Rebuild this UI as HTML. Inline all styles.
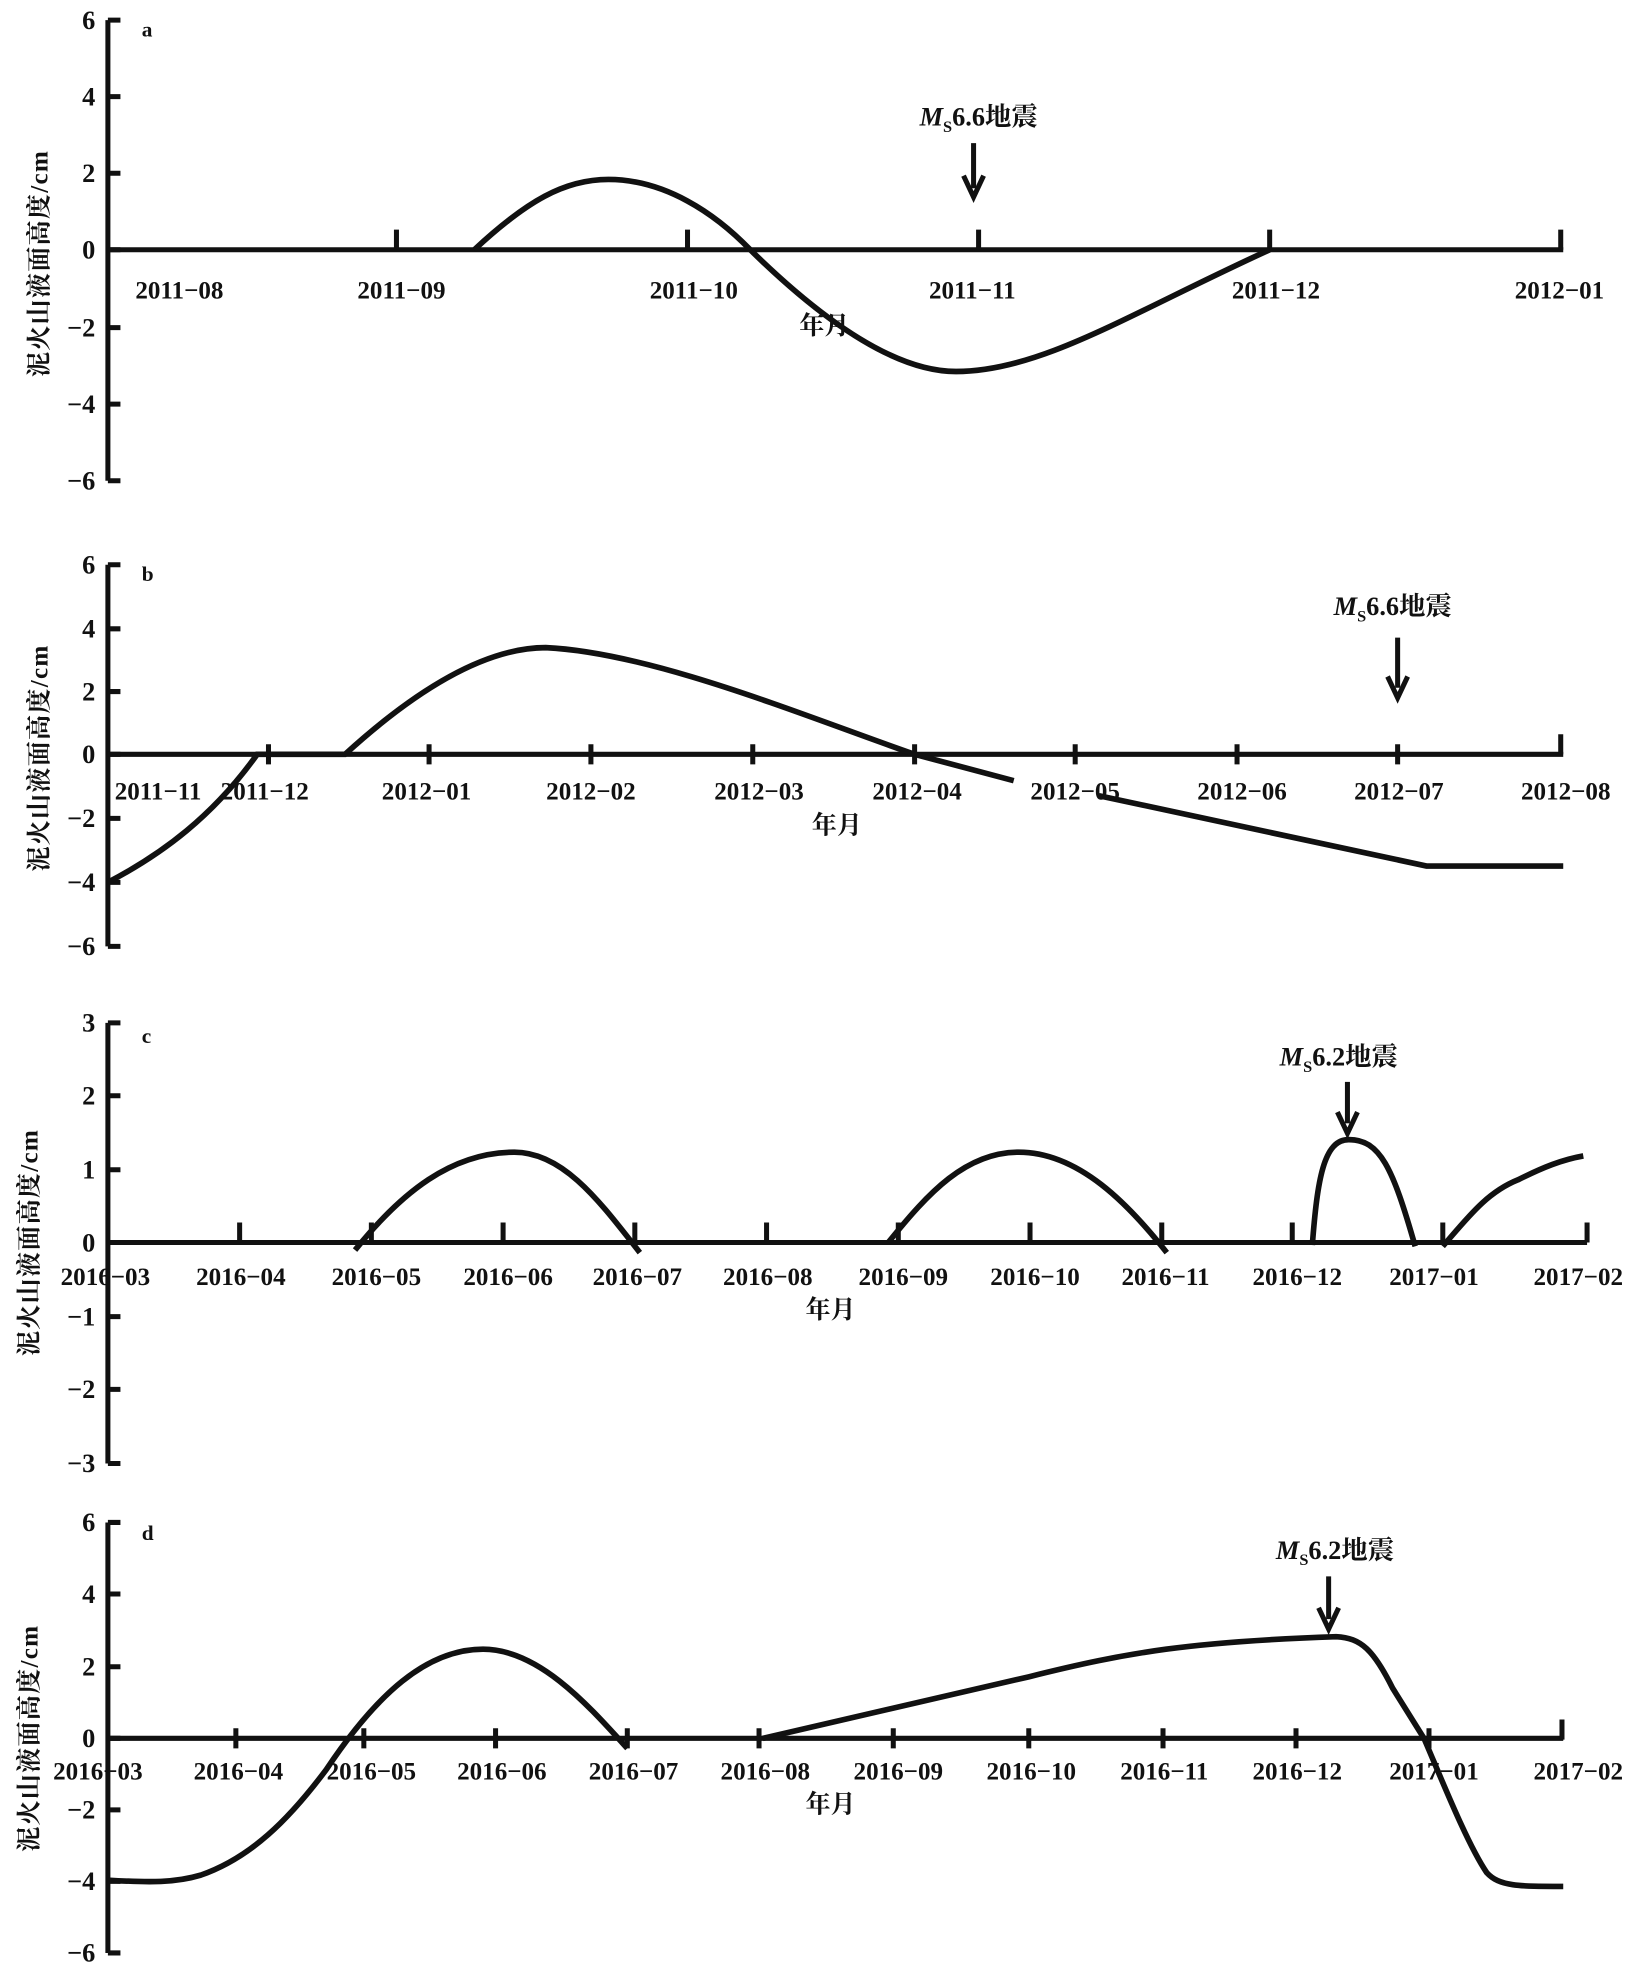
<!DOCTYPE html>
<html><head><meta charset="utf-8"><style>
html,body{margin:0;padding:0;background:#fff}
svg{display:block}
text{font-family:"Liberation Serif","Noto Serif CJK SC",serif;font-weight:bold;fill:#111}
</style></head><body>
<svg width="1636" height="1968" viewBox="0 0 1304 1568" preserveAspectRatio="none" xmlns="http://www.w3.org/2000/svg">
<g stroke="#111" stroke-width="4" fill="none" stroke-linecap="butt">
<path d="M86 16V383"/>
<path d="M86 16h10M86 77h10M86 138h10M86 199h10M86 261h10M86 322h10M86 383h10"/>
<path d="M86 199H1246"/>
<path d="M316 199v-16M548 199v-16M780 199v-16M1012 199v-16M1244 199v-16"/>
<path d="M378 199 C420 160,450 143,485 143 C530 143,570 170,598 199 C650 250,710 296,762 296 C830 296,900 250,1012 199" stroke-width="4.5"/>
<path d="M776 114V150"/><path d="M768 140 L776 157 L784 140" stroke-width="4"/>
<path d="M86 450V754"/>
<path d="M86 450h10M86 501h10M86 551h10M86 601h10M86 652h10M86 703h10M86 754h10"/>
<path d="M86 601H1246"/>
<path d="M214 593v16M342 593v16M471 593v16M600 593v16M729 593v16M857 593v16M986 593v16M1114 593v16M1244 585v16"/>
<path d="M86 703 C130 680,170 650,205 601 L275 601 C320 560,380 516,435 516 C520 520,640 570,729 601 L808 622" stroke-width="4.5"/>
<path d="M876 634 L1137 690 L1246 690" stroke-width="4.5"/>
<path d="M1114 508V548"/><path d="M1106 539 L1114 556 L1122 539"/>
<path d="M86 815V1166"/>
<path d="M86 815h10M86 873h10M86 932h10M86 990h10M86 1049h10M86 1107h10M86 1166h10"/>
<path d="M86 990H1265"/>
<path d="M191 990v-16M296 990v-16M401 990v-16M506 990v-16M611 990v-16M716 990v-16M821 990v-16M926 990v-16M1030 990v-16M1150 990v-16M1265 990v-16"/>
<path d="M283 996 C320 950,360 918,410 918 C450 918,480 960,510 998" stroke-width="4.5"/>
<path d="M708 990 C740 950,770 918,812 918 C860 918,900 960,930 998" stroke-width="4.5"/>
<path d="M1046 992 C1050 940,1055 908,1075 908 C1100 908,1110 930,1128 993" stroke-width="4.5"/>
<path d="M1150 993 C1170 970,1185 950,1210 940 C1230 930,1245 924,1262 921" stroke-width="4.5"/>
<path d="M1074 862V895"/><path d="M1066 886 L1074 903 L1082 886"/>
<path d="M86 1213V1556"/>
<path d="M86 1213h10M86 1270h10M86 1328h10M86 1385h10M86 1442h10M86 1499h10M86 1556h10"/>
<path d="M86 1385H1246"/>
<path d="M188 1377v16M290 1377v16M395 1377v16M500 1377v16M605 1377v16M712 1377v16M820 1377v16M927 1377v16M1033 1377v16M1139 1377v16M1245 1370v16"/>
<path d="M86 1498 C120 1500,140 1500,160 1494 C200 1480,230 1450,260 1410 C300 1350,340 1314,385 1314 C430 1314,470 1360,500 1393" stroke-width="4.5"/>
<path d="M608 1385 L820 1336 C900 1316,950 1308,1065 1304 C1085 1305,1095 1315,1110 1345 L1135 1385 C1150 1420,1170 1470,1185 1492 C1195 1503,1210 1503,1246 1503" stroke-width="4.5"/>
<path d="M1059 1256V1290"/><path d="M1051 1281 L1059 1298 L1067 1281"/>
</g>
<g font-size="21" text-anchor="end">
<text x="76" y="23">6</text><text x="76" y="84">4</text><text x="76" y="145">2</text><text x="76" y="206">0</text><text x="76" y="268">−2</text><text x="76" y="329">−4</text><text x="76" y="390">−6</text>
<text x="76" y="457">6</text><text x="76" y="508">4</text><text x="76" y="558">2</text><text x="76" y="608">0</text><text x="76" y="659">−2</text><text x="76" y="710">−4</text><text x="76" y="761">−6</text>
<text x="76" y="822">3</text><text x="76" y="880">2</text><text x="76" y="939">1</text><text x="76" y="997">0</text><text x="76" y="1056">−1</text><text x="76" y="1114">−2</text><text x="76" y="1173">−3</text>
<text x="76" y="1220">6</text><text x="76" y="1277">4</text><text x="76" y="1335">2</text><text x="76" y="1392">0</text><text x="76" y="1449">−2</text><text x="76" y="1506">−4</text><text x="76" y="1563">−6</text>
</g>
<g font-size="20" text-anchor="middle">
<text x="143" y="238">2011−08</text><text x="320" y="238">2011−09</text><text x="553" y="238">2011−10</text><text x="775" y="238">2011−11</text><text x="1017" y="238">2011−12</text><text x="1243" y="238">2012−01</text>
<text x="126" y="637">2011−11</text><text x="211" y="637">2011−12</text><text x="340" y="637">2012−01</text><text x="471" y="637">2012−02</text><text x="605" y="637">2012−03</text><text x="731" y="637">2012−04</text><text x="857" y="637">2012−05</text><text x="990" y="637">2012−06</text><text x="1115" y="637">2012−07</text><text x="1248" y="637">2012−08</text>
<text x="84" y="1024">2016−03</text><text x="192" y="1024">2016−04</text><text x="300" y="1024">2016−05</text><text x="405" y="1024">2016−06</text><text x="508" y="1024">2016−07</text><text x="612" y="1024">2016−08</text><text x="720" y="1024">2016−09</text><text x="825" y="1024">2016−10</text><text x="929" y="1024">2016−11</text><text x="1034" y="1024">2016−12</text><text x="1143" y="1024">2017−01</text><text x="1258" y="1024">2017−02</text>
<text x="78" y="1418">2016−03</text><text x="190" y="1418">2016−04</text><text x="296" y="1418">2016−05</text><text x="400" y="1418">2016−06</text><text x="505" y="1418">2016−07</text><text x="610" y="1418">2016−08</text><text x="716" y="1418">2016−09</text><text x="822" y="1418">2016−10</text><text x="928" y="1418">2016−11</text><text x="1034" y="1418">2016−12</text><text x="1143" y="1418">2017−01</text><text x="1258" y="1418">2017−02</text>
<text x="657" y="266">年月</text><text x="667" y="664">年月</text><text x="662" y="1050">年月</text><text x="662" y="1444">年月</text>
</g>
<g font-size="17">
<text x="113" y="29">a</text><text x="113" y="463">b</text><text x="113" y="831">c</text><text x="113" y="1227">d</text>
</g>
<g font-size="21">
<text x="733" y="100"><tspan font-style="italic">M</tspan><tspan font-size="13" dy="5">S</tspan><tspan dy="-5">6.6地震</tspan></text>
<text x="1063" y="490"><tspan font-style="italic">M</tspan><tspan font-size="13" dy="5">S</tspan><tspan dy="-5">6.6地震</tspan></text>
<text x="1020" y="849"><tspan font-style="italic">M</tspan><tspan font-size="13" dy="5">S</tspan><tspan dy="-5">6.2地震</tspan></text>
<text x="1017" y="1242"><tspan font-style="italic">M</tspan><tspan font-size="13" dy="5">S</tspan><tspan dy="-5">6.2地震</tspan></text>
</g>
<g font-size="20" text-anchor="middle" letter-spacing="1">
<text transform="translate(38,210) rotate(-90)">泥火山液面高度/cm</text>
<text transform="translate(38,604) rotate(-90)">泥火山液面高度/cm</text>
<text transform="translate(30,990) rotate(-90)">泥火山液面高度/cm</text>
<text transform="translate(30,1385) rotate(-90)">泥火山液面高度/cm</text>
</g>
</svg>
</body></html>
